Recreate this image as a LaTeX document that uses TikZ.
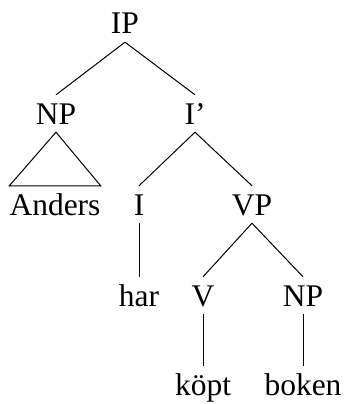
\documentclass[tikz,border=0pt]{standalone}
\usepackage{fontspec}
\setmainfont{Liberation Serif}
\usepackage{tikz}
\tikzstyle{cat} = [anchor=base, inner xsep=0pt, inner ysep=8pt,
    text height=21pt, text depth=0pt, font=\fontsize{31.5}{36}\selectfont]
\tikzstyle{branch} = [draw, line width=1pt]

\begin{document}
\begin{tikzpicture}[x=1pt, y=-1pt]
    \useasboundingbox (0,0) rectangle (344,404);
    % categories, one row per level
    \node [cat] (ip) at (125,34) {IP};
    \node [cat] (np) at (56,124) {NP};
    \node [cat] (ibar) at (195,124) {I'};
    \node [cat] (anders) at (55,215) {Anders};
    \node [cat] (i) at (139,215) {I};
    \node [cat] (vp) at (252,215) {VP};
    \node [cat] (har) at (139,306) {har};
    \node [cat] (v) at (203,306) {V};
    \node [cat] (npobj) at (303,306) {NP};
    \node [cat] (kopt) at (203,395) {köpt};
    \node [cat] (boken) at (303,395) {boken};
    % branches
    \path [branch] (ip.south) -- (np.north);
    \path [branch] (ip.south) -- (ibar.north);
    \path [branch] (np.south) -- (anders.north west) -- (anders.north east) -- cycle;
    \path [branch] (ibar.south) -- (i.north);
    \path [branch] (ibar.south) -- (vp.north);
    \path [branch] (i.south) -- (har.north);
    \path [branch] (vp.south) -- (v.north);
    \path [branch] (vp.south) -- (npobj.north);
    \path [branch] (v.south) -- (kopt.north);
    \path [branch] (npobj.south) -- (boken.north);
\end{tikzpicture}
\end{document}
